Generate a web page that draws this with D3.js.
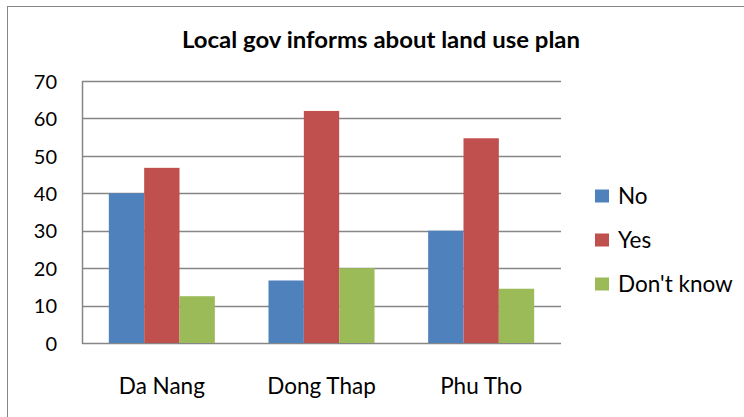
<!DOCTYPE html>
<html>
<head>
<meta charset="utf-8">
<script src="https://cdn.jsdelivr.net/npm/d3@7"></script>
<style>
html,body{margin:0;padding:0;background:#fff;}
svg{display:block;}
text{font-family:Lato,"Open Sans",sans-serif;fill:#000;}
</style>
</head>
<body>
<svg id="chart" width="744" height="417"></svg>
<script>
const categories = ["Da Nang", "Dong Thap", "Phu Tho"];
const seriesNames = ["No", "Yes", "Don't know"];
const noValues = [40, 16.7, 30];
const yesValues = [46.8, 62, 54.7];
const dontKnowValues = [12.5, 20, 14.5];
const yTicks = [0, 10, 20, 30, 40, 50, 60, 70];
const colors = ["#4F81BD", "#C0504D", "#9BBB59"];
const title = "Local gov informs about land use plan";

const series = [noValues, yesValues, dontKnowValues];
const svg = d3.select("#chart");

// outer chart border
svg.append("rect").attr("x", 7.5).attr("y", 6.5).attr("width", 800).attr("height", 500)
  .attr("fill", "none").attr("stroke", "#868686").attr("stroke-width", 1);

const plot = {left: 82, right: 561, top: 81, bottom: 343};

const x0 = d3.scaleBand().domain(categories).range([plot.left, plot.right]).paddingInner(0.336).paddingOuter(0.168);
const x1 = d3.scaleBand().domain(seriesNames).range([0, x0.bandwidth()]);
const y = d3.scaleLinear().domain([0, 70]).range([plot.bottom, plot.top]);

// gridlines
svg.append("g").selectAll("line").data(yTicks).join("line")
  .attr("x1", plot.left).attr("x2", plot.right)
  .attr("y1", d => Math.round(y(d)) + 0.5).attr("y2", d => Math.round(y(d)) + 0.5)
  .attr("stroke", "#868686").attr("stroke-width", 1.5);

// y axis line
svg.append("line").attr("x1", plot.left + 0.5).attr("x2", plot.left + 0.5)
  .attr("y1", plot.top).attr("y2", plot.bottom + 1)
  .attr("stroke", "#868686").attr("stroke-width", 1.5);

// bars
const groups = svg.append("g").selectAll("g").data(categories).join("g")
  .attr("transform", c => `translate(${x0(c)},0)`);
groups.selectAll("rect").data((c, i) => seriesNames.map((s, j) => ({s, v: series[j][i], j})))
  .join("rect")
  .attr("x", d => x1(d.s)).attr("width", x1.bandwidth())
  .attr("y", d => y(d.v)).attr("height", d => y(0) - y(d.v))
  .attr("fill", d => colors[d.j]);

// y tick labels via axis
const yAxis = d3.axisLeft(y).tickValues(yTicks).tickSize(0).tickPadding(0);
const ya = svg.append("g").attr("transform", `translate(${plot.left - 25},0)`).call(yAxis);
ya.select(".domain").remove();
ya.selectAll("text").attr("font-size", 20).attr("font-family", "Lato").attr("fill", "#000").attr("dy", "0.36em");

// x labels via axis
const xAxis = d3.axisBottom(x0).tickSize(0).tickPadding(0);
const xa = svg.append("g").attr("transform", `translate(0,${plot.bottom + 51})`).call(xAxis);
xa.select(".domain").remove();
xa.selectAll("text").attr("font-size", 22.5).attr("font-family", "Lato").attr("fill", "#000").attr("dy", "0");

// title
svg.append("text").attr("x", 381).attr("y", 48).attr("text-anchor", "middle")
  .attr("font-size", 23).attr("font-weight", "bold")
  .attr("textLength", 398).attr("lengthAdjust", "spacingAndGlyphs").text(title);

// legend
const leg = svg.append("g").selectAll("g").data(seriesNames).join("g")
  .attr("transform", (d, i) => `translate(595,${196 + i * 44})`);
leg.append("rect").attr("x", 0).attr("y", -6.5).attr("width", 14).attr("height", 13)
  .attr("fill", (d, i) => colors[i]);
leg.append("text").attr("x", 23).attr("y", 0).attr("dy", "0.36em").attr("font-size", 22.5).text(d => d);
</script>
</body>
</html>
